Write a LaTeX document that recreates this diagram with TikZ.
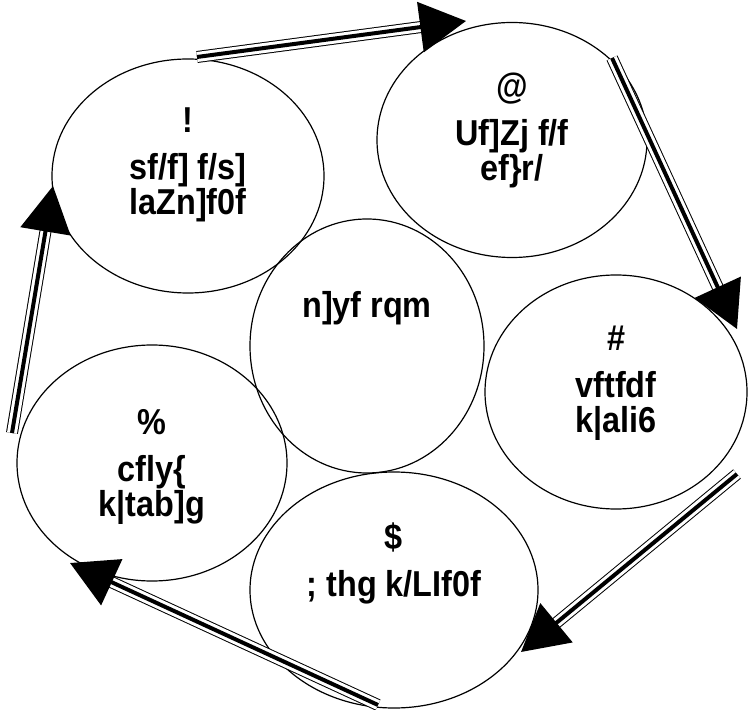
\documentclass[tikz,border=0pt]{standalone}
\usepackage{fontspec}
\setmainfont{Liberation Sans}[FakeStretch=0.9]
\usetikzlibrary{shapes.geometric,arrows.meta}
\begin{document}
\begin{tikzpicture}[x=0.5pt, y=-0.5pt,
    stage/.style={draw, ellipse, line width=0.6pt, inner sep=0pt},
    txt/.style={align=center, inner sep=0pt, font=\bfseries\fontsize{18}{17.5}\selectfont},
    flow/.style={-{Triangle[length=23pt,width=25pt]}, line width=2pt,
        preaction={draw, -, double distance=5pt, line width=0.5pt, shorten >=20pt}}]
    \useasboundingbox (0,0) rectangle (748,710);

    % the six ellipses
    \node[stage, minimum width=136pt, minimum height=117pt] (analysis) at (188,176) {};
    \node[stage, minimum width=135pt, minimum height=117.5pt] (design) at (512,140) {};
    \node[stage, minimum width=117pt, minimum height=127pt] (cycle) at (367,346) {};
    \node[stage, minimum width=131pt, minimum height=117pt] (coding) at (616,392) {};
    \node[stage, minimum width=144pt, minimum height=118pt] (testing) at (394,590) {};
    \node[stage, minimum width=135pt, minimum height=118pt] (support) at (152,463) {};

    \node[txt] (analysistxt) at (188,165) {!\\[6pt] sf/f] f/s]\\ laZn]f0f};
    \node[txt] (designtxt) at (512,130) {@\\[6pt] Uf]Zj f/f\\ ef\}r/};
    \node[txt] (cycletxt) at (367,308) {n]yf rqm};
    \node[txt] (codingtxt) at (616,383) {\#\\[6pt] vftfdf\\ k|ali6};
    \node[txt] (testingtxt) at (394,563) {\$\\[6pt] ; thg k/LIf0f};
    \node[txt] (supporttxt) at (152,467) {\%\\[6pt] cfly\{\\ k|tab]g};

    % arrow ends
    \coordinate (a1) at (197,57);
    \coordinate (b1) at (466,21);
    \coordinate (a2) at (612,58);
    \coordinate (b2) at (737,329);
    \coordinate (a3) at (737,474);
    \coordinate (b3) at (521,652);
    \coordinate (a4) at (378,705);
    \coordinate (b4) at (70,563);
    \coordinate (a5) at (12,433);
    \coordinate (b5) at (53,186);

    \draw[flow] (a1) -- (b1);
    \draw[flow] (a2) -- (b2);
    \draw[flow] (a3) -- (b3);
    \draw[flow] (a4) -- (b4);
    \draw[flow] (a5) -- (b5);
\end{tikzpicture}
\end{document}
